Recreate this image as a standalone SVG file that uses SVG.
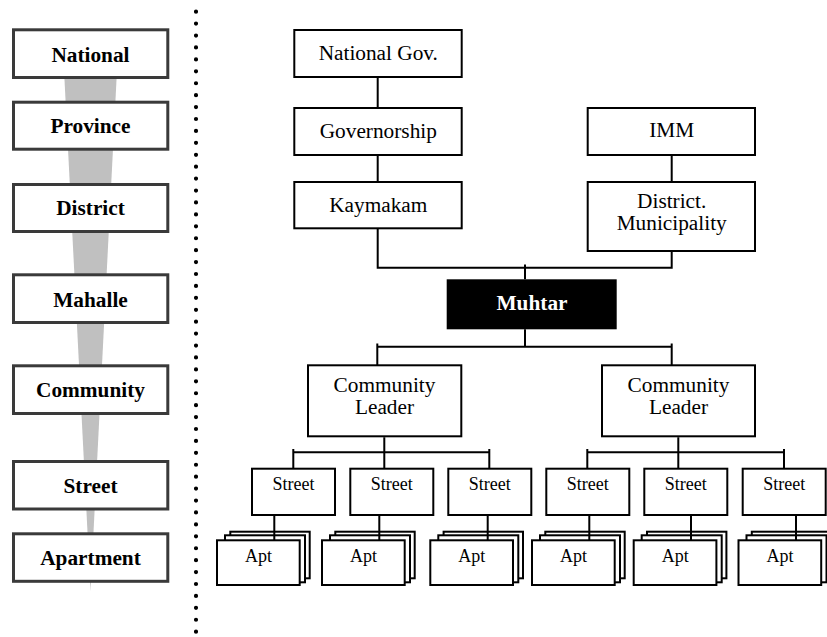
<svg xmlns="http://www.w3.org/2000/svg" width="827" height="637" viewBox="0 0 827 637">
<style>
.lvl{fill:#fff;stroke:#3a3a3a;stroke-width:3}
.lt{font-family:'Liberation Serif','Times New Roman',Tinos,'DejaVu Serif',serif;font-weight:bold;font-size:21.3px;fill:#000;text-anchor:middle}
.box{fill:#fff;stroke:#000;stroke-width:2}
.t{font-family:'Liberation Serif','Times New Roman',Tinos,'DejaVu Serif',serif;font-size:21.3px;fill:#000;text-anchor:middle}
.ts{font-family:'Liberation Serif','Times New Roman',Tinos,'DejaVu Serif',serif;font-size:18px;fill:#000;text-anchor:middle}
.con{fill:none;stroke:#000;stroke-width:2}
</style>
<rect width="827" height="637" fill="#fff"/>
<g id="levels">
<polygon points="64,70 117,70 90.5,591" fill="#c0c0c0"/>
<g id="lvl-national"><rect class="lvl" x="13.5" y="29.8" width="154.3" height="47.7"/><text class="lt" x="90.5" y="61.5">National</text></g>
<g id="lvl-province"><rect class="lvl" x="13.5" y="102.2" width="154.3" height="47"/><text class="lt" x="90.5" y="133">Province</text></g>
<g id="lvl-district"><rect class="lvl" x="13.5" y="184.5" width="154.3" height="47"/><text class="lt" x="90.5" y="215">District</text></g>
<g id="lvl-mahalle"><rect class="lvl" x="13.5" y="274.8" width="154.3" height="47.7"/><text class="lt" x="90.5" y="306.5">Mahalle</text></g>
<g id="lvl-community"><rect class="lvl" x="13.5" y="365.8" width="154.3" height="47.7"/><text class="lt" x="90.5" y="397">Community</text></g>
<g id="lvl-street"><rect class="lvl" x="13.5" y="461.5" width="154.3" height="47.5"/><text class="lt" x="90.5" y="493">Street</text></g>
<g id="lvl-apartment"><rect class="lvl" x="13.5" y="533.8" width="154.3" height="47.5"/><text class="lt" x="90.5" y="565">Apartment</text></g>
</g>
<line id="divider" x1="196" y1="11.7" x2="196" y2="631.7" stroke="#000" stroke-width="4.2" stroke-linecap="round" stroke-dasharray="0 11.923"/>
<g id="national-gov"><rect class="box" x="294.3" y="30" width="167.4" height="47"/><text class="t" x="378.3" y="60">National Gov.</text></g>
<g id="governorship"><rect class="box" x="294.3" y="108" width="167.4" height="47"/><text class="t" x="378.3" y="138">Governorship</text></g>
<g id="kaymakam"><rect class="box" x="294.3" y="182" width="167.4" height="46.3"/><text class="t" x="378.3" y="211.7">Kaymakam</text></g>
<g id="imm"><rect class="box" x="587.7" y="108" width="167.3" height="47"/><text class="t" x="671.7" y="136.5">IMM</text></g>
<g id="district-muni"><rect class="box" x="587.7" y="182" width="167.3" height="69"/><text class="t" x="671.7" y="208">District.</text><text class="t" x="671.7" y="230.3">Municipality</text></g>
<g id="muhtar"><rect x="446.7" y="279.3" width="170" height="50" fill="#000"/><text class="lt" x="532" y="310" style="fill:#fff">Muhtar</text></g>
<g id="cl1"><rect class="box" x="308" y="365.3" width="153.3" height="71"/><text class="t" x="384.5" y="392">Community</text><text class="t" x="384.5" y="414.3">Leader</text></g>
<g id="cl2"><rect class="box" x="602" y="365.3" width="153" height="71"/><text class="t" x="678.5" y="392">Community</text><text class="t" x="678.5" y="414.3">Leader</text></g>
<g id="street1"><rect class="box" x="252" y="468.7" width="83" height="46.3"/><text class="ts" x="293.5" y="490">Street</text></g>
<g id="street2"><rect class="box" x="350.3" y="468.7" width="83" height="46.3"/><text class="ts" x="391.8" y="490">Street</text></g>
<g id="street3"><rect class="box" x="448.3" y="468.7" width="83" height="46.3"/><text class="ts" x="489.8" y="490">Street</text></g>
<g id="street4"><rect class="box" x="546.3" y="468.7" width="83" height="46.3"/><text class="ts" x="587.8" y="490">Street</text></g>
<g id="street5"><rect class="box" x="644.3" y="468.7" width="83" height="46.3"/><text class="ts" x="685.8" y="490">Street</text></g>
<g id="street6"><rect class="box" x="742.7" y="468.7" width="83" height="46.3"/><text class="ts" x="784.2" y="490">Street</text></g>
<g id="apt1" transform="translate(216,0)"><rect class="box" x="14.3" y="531.7" width="79.4" height="46.6"/><rect class="box" x="9" y="535.3" width="80" height="47"/><rect class="box" x="1" y="540.3" width="82.7" height="44.7"/><text class="ts" x="42.5" y="561.7">Apt</text></g>
<g id="apt2" transform="translate(321,0)"><rect class="box" x="14.3" y="531.7" width="79.4" height="46.6"/><rect class="box" x="9" y="535.3" width="80" height="47"/><rect class="box" x="1" y="540.3" width="82.7" height="44.7"/><text class="ts" x="42.5" y="561.7">Apt</text></g>
<g id="apt3" transform="translate(429.3,0)"><rect class="box" x="14.3" y="531.7" width="79.4" height="46.6"/><rect class="box" x="9" y="535.3" width="80" height="47"/><rect class="box" x="1" y="540.3" width="82.7" height="44.7"/><text class="ts" x="42.5" y="561.7">Apt</text></g>
<g id="apt4" transform="translate(531,0)"><rect class="box" x="14.3" y="531.7" width="79.4" height="46.6"/><rect class="box" x="9" y="535.3" width="80" height="47"/><rect class="box" x="1" y="540.3" width="82.7" height="44.7"/><text class="ts" x="42.5" y="561.7">Apt</text></g>
<g id="apt5" transform="translate(632.7,0)"><rect class="box" x="14.3" y="531.7" width="79.4" height="46.6"/><rect class="box" x="9" y="535.3" width="80" height="47"/><rect class="box" x="1" y="540.3" width="82.7" height="44.7"/><text class="ts" x="42.5" y="561.7">Apt</text></g>
<g id="apt6" transform="translate(737.5,0)"><rect class="box" x="14.3" y="531.7" width="79.4" height="46.6"/><rect class="box" x="9" y="535.3" width="80" height="47"/><rect class="box" x="1" y="540.3" width="82.7" height="44.7"/><text class="ts" x="42.5" y="561.7">Apt</text></g>
<g id="connectors" class="con">
<path d="M377.7 78V108M377.7 156V182M671.7 156V182"/>
<path d="M377.7 229V267.7H671.7V252"/>
<path d="M525 264.5V279.3M525 329.3V346.7"/>
<path d="M377.3 365.3V346.7H671.7V365.3M377.3 346.7V343.5M671.7 346.7V343.5"/>
<path d="M384.3 437.3V468.7M293.3 468.7V449M489.3 468.7V449M293.3 452.3H489.3"/>
<path d="M678.3 437.3V468.7M587.3 468.7V449M784 468.7V449M587.3 452.3H784"/>
<path d="M274.3 515V540.3M379.3 515V540.3M487.7 515V540.3M589.3 515V540.3M691 515V540.3M796 515V540.3"/>
</g>
</svg>
